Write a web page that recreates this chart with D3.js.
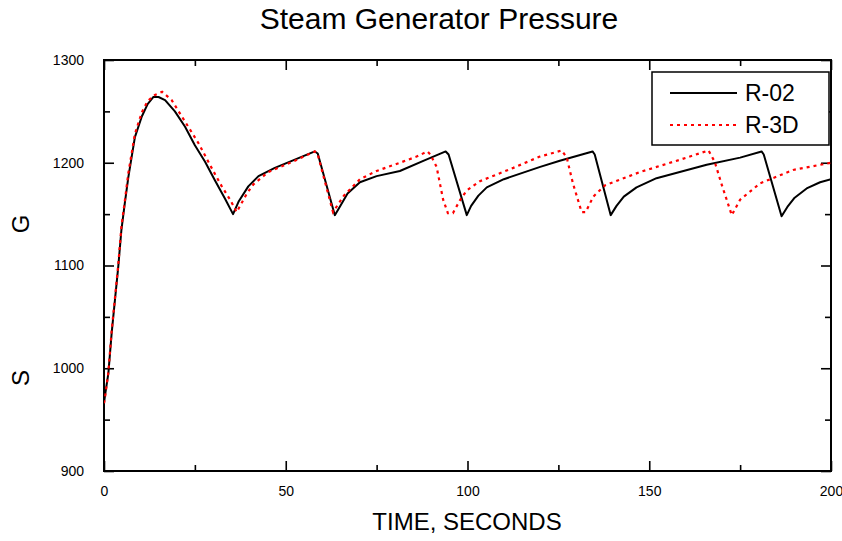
<!DOCTYPE html>
<html>
<head>
<meta charset="utf-8">
<script src="https://cdn.jsdelivr.net/npm/d3@7"></script>
<style>
  html, body { margin: 0; padding: 0; background: #fff; }
  svg { display: block; font-family: "Liberation Sans", Arial, sans-serif; }
</style>
</head>
<body>
<svg id="chart" width="842" height="541"></svg>
<script>
// Steam generator pressure transient, two code runs
const r02Time = [0, 0.3, 1.2, 2.1, 3, 3.9, 4.8, 5.7, 6.7, 8.5, 10.4, 12, 13.6, 15, 16.8, 19.5, 22.3, 25, 27.8, 30.5, 33.3, 35.5, 37, 39.7, 42.5, 47, 52.5, 58, 58.8, 63.5, 65, 67, 70.4, 75, 81.4, 88, 94, 94.8, 99.8, 101, 103, 105.3, 110, 120, 125.4, 134.4, 135, 139.4, 141, 143, 146.5, 152, 165.8, 175, 180.9, 181.5, 186.4, 188, 190, 193.3, 197, 200];
const r02Pressure = [966, 974, 995, 1034, 1066, 1098, 1135, 1160, 1186, 1225, 1245, 1257, 1264, 1264, 1261, 1250, 1235, 1217, 1201, 1183, 1165, 1150, 1162, 1177, 1187, 1195, 1203, 1211, 1209, 1149, 1158, 1170, 1181, 1187, 1192, 1202, 1211, 1208, 1149, 1158, 1168, 1176, 1184, 1196, 1202, 1211, 1208, 1149, 1158, 1167, 1176, 1185, 1198, 1205, 1211, 1208, 1148, 1157, 1166, 1175, 1181, 1184];

const r3dTime = [0, 0.3, 1.2, 2.1, 3, 3.9, 4.8, 5.7, 6.7, 8.5, 10.4, 12, 14, 16, 18.6, 22.3, 26, 29.6, 32.4, 34.7, 36.5, 39.3, 41.1, 45.2, 52.5, 58, 58.8, 63, 66, 70.4, 75, 81.4, 86, 89, 89.8, 91.5, 93.3, 94.6, 96, 98, 99.8, 103.4, 112.6, 119.9, 122, 125.9, 127.3, 129, 131.4, 132.5, 134.6, 137.8, 147.5, 158.5, 166.3, 168, 170, 172.7, 175, 180.5, 189.6, 200];
const r3dPressure = [966, 972, 996, 1036, 1068, 1100, 1138, 1162, 1190, 1228, 1249, 1260, 1266, 1269, 1261, 1240, 1219, 1195, 1177, 1164, 1152, 1170, 1179, 1191, 1202, 1211, 1208, 1152, 1168, 1184, 1192, 1200, 1206, 1211, 1208, 1196, 1164, 1151, 1151, 1164, 1173, 1182, 1195, 1206, 1208, 1212, 1205, 1180, 1152, 1152, 1167, 1178, 1191, 1203, 1212, 1201, 1178, 1149, 1164, 1180, 1193, 1200];

const seriesNames = ["R-02", "R-3D"];
const xMajorTicks = [0, 50, 100, 150, 200];
const xMinorTicks = [25, 75, 125, 175];
const yMajorTicks = [900, 1000, 1100, 1200, 1300];
const yMinorTicks = [950, 1050, 1150, 1250];

const svg = d3.select("#chart");
const W = 842, H = 541;
const margin = { top: 60, right: 11, bottom: 70, left: 104 };
const iw = W - margin.left - margin.right;
const ih = H - margin.top - margin.bottom;

const x = d3.scaleLinear().domain([0, 200]).range([0, iw]);
const y = d3.scaleLinear().domain([900, 1300]).range([ih, 0]);

const g = svg.append("g").attr("transform", `translate(${margin.left},${margin.top})`);

// clip the traces to the plotting frame
svg.append("defs").append("clipPath").attr("id", "plotClip")
  .append("rect").attr("width", iw).attr("height", ih);

const MAJ = 10, MIN = 6;

function styleAxis(sel) {
  sel.select(".domain").remove();
  sel.selectAll(".tick line").attr("stroke", "#000").attr("stroke-width", 1.6);
  sel.selectAll(".tick text").attr("fill", "#000").attr("font-size", 14)
     .attr("font-family", "'Liberation Sans', Arial, sans-serif");
}

// bottom axis (labels) and inward ticks
g.append("g").attr("transform", `translate(0,${ih})`)
  .call(d3.axisBottom(x).tickValues(xMajorTicks).tickSize(-MAJ).tickPadding(15).tickFormat(d3.format("d")))
  .call(styleAxis);
g.append("g").attr("transform", `translate(0,${ih})`)
  .call(d3.axisBottom(x).tickValues(xMinorTicks).tickSize(-MIN).tickFormat(""))
  .call(styleAxis);
// top axis ticks
g.append("g")
  .call(d3.axisTop(x).tickValues(xMajorTicks).tickSize(-MAJ).tickFormat(""))
  .call(styleAxis);
g.append("g")
  .call(d3.axisTop(x).tickValues(xMinorTicks).tickSize(-MIN).tickFormat(""))
  .call(styleAxis);

// left axis (labels)
g.append("g")
  .call(d3.axisLeft(y).tickValues(yMajorTicks).tickSize(-MAJ).tickPadding(20).tickFormat(d3.format("d")))
  .call(styleAxis);
g.append("g")
  .call(d3.axisLeft(y).tickValues(yMinorTicks).tickSize(-MIN).tickFormat(""))
  .call(styleAxis);
// right axis ticks
g.append("g").attr("transform", `translate(${iw},0)`)
  .call(d3.axisRight(y).tickValues(yMajorTicks).tickSize(-MAJ).tickFormat(""))
  .call(styleAxis);
g.append("g").attr("transform", `translate(${iw},0)`)
  .call(d3.axisRight(y).tickValues(yMinorTicks).tickSize(-MIN).tickFormat(""))
  .call(styleAxis);

// frame
g.append("rect").attr("width", iw).attr("height", ih)
  .attr("fill", "none").attr("stroke", "#000").attr("stroke-width", 2);

const line = d3.line().x(d => x(d[0])).y(d => y(d[1]));
const r02 = r02Time.map((t, i) => [t, r02Pressure[i]]);
const r3d = r3dTime.map((t, i) => [t, r3dPressure[i]]);

const traces = g.append("g").attr("clip-path", "url(#plotClip)");
traces.append("path").datum(r02).attr("d", line)
  .attr("fill", "none").attr("stroke", "#000").attr("stroke-width", 2)
  .attr("stroke-linejoin", "round");
traces.append("path").datum(r3d).attr("d", line)
  .attr("fill", "none").attr("stroke", "#ff0000").attr("stroke-width", 2.2)
  .attr("stroke-dasharray", "3,4");

// legend
const lg = svg.append("g");
lg.append("rect").attr("x", 652).attr("y", 72).attr("width", 177).attr("height", 73)
  .attr("fill", "#fff").attr("stroke", "#000").attr("stroke-width", 1.5);
const legendStyles = [
  { stroke: "#000", dash: null, w: 2 },
  { stroke: "#ff0000", dash: "3,4", w: 2.2 }
];
seriesNames.forEach((name, i) => {
  const ly = 93 + i * 32;
  lg.append("line").attr("x1", 670).attr("x2", 737).attr("y1", ly).attr("y2", ly)
    .attr("stroke", legendStyles[i].stroke).attr("stroke-width", legendStyles[i].w)
    .attr("stroke-dasharray", legendStyles[i].dash);
  lg.append("text").attr("x", 745).attr("y", ly + 8).attr("font-size", 23)
    .attr("fill", "#000").text(name);
});

// titles
svg.append("text").attr("x", 439).attr("y", 29).attr("text-anchor", "middle")
  .attr("font-size", 30).attr("fill", "#000").text("Steam Generator Pressure");
svg.append("text").attr("x", 467).attr("y", 530).attr("text-anchor", "middle")
  .attr("font-size", 24).attr("fill", "#000").text("TIME, SECONDS");
svg.append("text").attr("transform", "translate(29,224) rotate(-90)").attr("text-anchor", "middle")
  .attr("font-size", 24).attr("fill", "#000").text("G");
svg.append("text").attr("transform", "translate(29,378) rotate(-90)").attr("text-anchor", "middle")
  .attr("font-size", 24).attr("fill", "#000").text("S");
</script>
</body>
</html>
